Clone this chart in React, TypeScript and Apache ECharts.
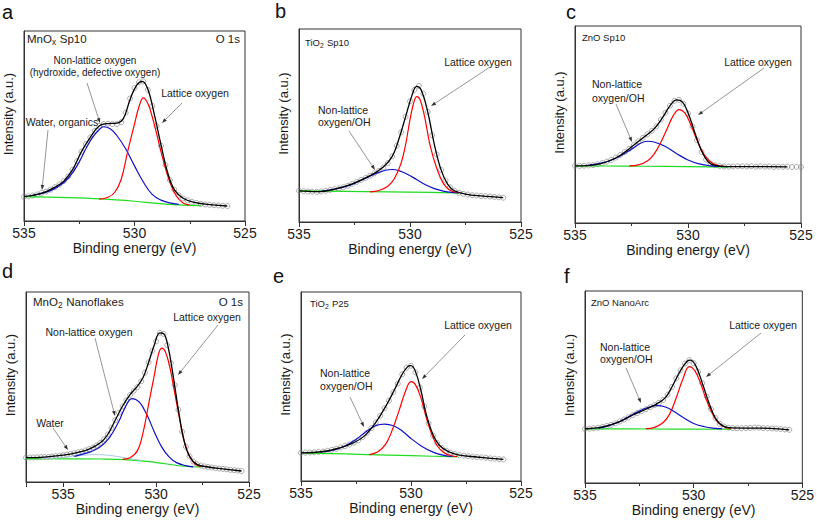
import React, { useEffect, useRef } from 'react';
import * as echarts from 'echarts';

const FONT = '"Liberation Sans", Arial, Helvetica, sans-serif';
type Pt = [number, number];

// ---------- Panel a: MnOx Sp10 ----------
const aRaw: Pt[] = [[535.0,12.8],[534.8,13.0],[534.6,13.4],[534.4,14.0],[534.2,14.8],[534.0,15.5],[533.8,16.5],[533.6,17.8],[533.4,19.2],[533.2,21.0],[533.0,23.5],[532.8,27.0],[532.6,31.5],[532.4,36.5],[532.2,40.5],[532.0,44.0],[531.8,47.5],[531.6,50.0],[531.4,51.0],[531.2,51.2],[531.0,51.0],[530.8,51.0],[530.6,52.0],[530.4,57.0],[530.2,64.5],[530.0,70.0],[529.8,73.0],[529.6,73.5],[529.4,69.0],[529.2,60.5],[529.0,50.0],[528.8,39.5],[528.6,29.5],[528.4,21.5],[528.2,16.5],[528.0,13.5],[527.8,11.8],[527.6,10.8],[527.4,10.0],[527.2,9.5],[527.0,9.0],[526.8,8.7],[526.6,8.5],[526.4,8.3],[526.2,8.2],[526.0,8.0],[525.8,7.9]];
const aFit: Pt[] = [[535,12.8],[534.4,14],[534,15.5],[533.6,17.8],[533.2,21],[532.8,27],[532.4,36.5],[532,44],[531.6,50],[531.2,51.3],[530.8,51.5],[530.5,54],[530.2,64],[529.9,71.5],[529.65,73.5],[529.4,69.5],[529.1,56],[528.8,40],[528.5,25.5],[528.2,16.5],[527.8,12],[527.3,9.8],[526.5,8.5],[525.8,7.9]];
const aBase: Pt[] = [[535,12.8],[533,12.3],[531.5,11.6],[530,10.4],[529,9.3],[528,8.5],[527,8.1]];
const aLattice: Pt[] = [[531.6,11.5],[531.2,12.5],[530.9,15],[530.6,22],[530.3,37],[530.0,51],[529.8,60],[529.6,64.8],[529.4,62],[529.2,55],[529.0,46],[528.7,32],[528.4,20.5],[528.1,13],[527.8,9.5],[527.5,8.4]];
const aNonLattice: Pt[] = [[534.6,13.5],[534.2,14.5],[533.8,16],[533.4,18.5],[533,22.5],[532.6,29],[532.2,38],[531.9,44],[531.6,48],[531.4,49.6],[531.1,48.5],[530.8,45],[530.4,38],[530,29],[529.6,20.5],[529.2,14],[528.8,11],[528.4,9.5],[528,8.7]];

// ---------- Panel b: TiO2 Sp10 ----------
const bRaw: Pt[] = [[535.0,16.2],[534.8,16.0],[534.6,15.8],[534.4,15.7],[534.2,15.6],[534.0,15.8],[533.8,16.2],[533.6,16.6],[533.4,17.0],[533.2,17.4],[533.0,18.0],[532.8,18.8],[532.6,19.8],[532.4,20.8],[532.2,21.8],[532.0,22.8],[531.8,24.0],[531.6,25.2],[531.4,26.5],[531.2,28.2],[531.0,30.5],[530.8,34.0],[530.6,39.5],[530.4,46.5],[530.2,54.5],[530.0,62.5],[529.8,68.5],[529.6,70.5],[529.4,66.5],[529.2,57.0],[529.0,45.0],[528.8,35.0],[528.6,27.0],[528.4,21.5],[528.2,18.0],[528.0,16.2],[527.8,15.2],[527.6,14.6],[527.4,14.2],[527.2,13.9],[527.0,13.7],[526.8,13.5],[526.6,13.4],[526.4,13.2],[526.2,13.0],[526.0,12.8],[525.8,12.6]];
const bFit: Pt[] = [[535,16.1],[534.2,15.7],[533.4,17],[532.6,19.8],[531.8,24],[531.2,28.5],[530.8,34],[530.5,43],[530.2,54.5],[529.9,66],[529.7,70.3],[529.5,68.5],[529.2,57],[528.9,40],[528.6,27],[528.3,19.5],[528,16.2],[527.5,14.5],[526.8,13.5],[525.8,12.6]];
const bBase: Pt[] = [[535,16.1],[533,15.9],[531,15.6],[529,15.3],[527.8,15.1]];
const bLattice: Pt[] = [[531.8,15.6],[531.4,16.3],[531.0,18.5],[530.7,22.5],[530.4,30.5],[530.2,40],[530.0,53],[529.85,61],[529.7,65],[529.55,63.5],[529.35,55],[529.1,40],[528.8,28],[528.5,20],[528.2,16.5],[527.8,15.2]];
const bNonLattice: Pt[] = [[534,15.9],[533.4,17],[533,18],[532.5,20],[532,22.7],[531.5,25.3],[531.1,26.8],[530.8,27.2],[530.5,26.6],[530.1,24.6],[529.7,22],[529.3,19.3],[528.9,17.3],[528.5,16],[528.1,15.3],[527.8,15.1]];

// ---------- Panel c: ZnO Sp10 ----------
const cRaw: Pt[] = [[535.0,29.0],[534.8,29.0],[534.6,29.1],[534.4,29.2],[534.2,29.4],[534.0,29.8],[533.8,30.4],[533.6,31.1],[533.4,32.0],[533.2,33.2],[533.0,34.5],[532.8,36.0],[532.6,37.7],[532.4,39.5],[532.2,41.5],[532.0,43.2],[531.8,45.0],[531.6,46.8],[531.4,49.0],[531.2,52.5],[531.0,56.0],[530.8,59.5],[530.6,62.0],[530.4,62.5],[530.2,60.5],[530.0,55.5],[529.8,49.0],[529.6,42.0],[529.4,36.0],[529.2,32.2],[529.0,30.2],[528.8,29.3],[528.6,28.9],[528.4,28.7],[528.2,28.6],[528.0,28.7],[527.8,28.8],[527.6,28.8],[527.4,28.7],[527.2,28.8],[527.0,28.6],[526.8,28.7],[526.6,28.6],[526.4,28.7],[526.2,28.5],[526.0,28.6],[525.8,28.5],[525.6,28.6],[525.4,28.4],[525.2,28.5],[525.0,28.4]];
const cFit: Pt[] = [[535,29],[534,29.8],[533.2,33],[532.6,37.7],[532,43.2],[531.5,47.8],[531.1,54],[530.8,59.5],[530.5,62.5],[530.25,61.5],[530,56],[529.7,46],[529.4,36.5],[529.1,31],[528.8,29.2],[528.3,28.6],[527,28.6],[525.6,28.5]];
const cBase: Pt[] = [[535,29],[533,28.9],[531,28.7],[529,28.5],[528.2,28.4]];
const cLattice: Pt[] = [[532.6,29],[532.2,29.5],[531.8,31.5],[531.5,35],[531.2,41],[530.9,48.5],[530.65,54.5],[530.4,57.6],[530.15,56],[529.9,50.5],[529.6,42],[529.3,35],[529.0,31],[528.7,29.3],[528.4,28.7]];
const cNonLattice: Pt[] = [[534.5,29.2],[534,30],[533.5,31.5],[533,34],[532.5,37.5],[532.1,40.5],[531.8,41.5],[531.5,41.1],[531,38.8],[530.5,35.2],[530,32],[529.5,30],[529,29],[528.6,28.7]];

// ---------- Panel d: MnO2 Nanoflakes ----------
const dRaw: Pt[] = [[537.0,12.8],[536.8,12.9],[536.6,12.9],[536.4,13.0],[536.2,13.1],[536.0,13.1],[535.8,13.2],[535.6,13.4],[535.4,13.6],[535.2,13.8],[535.0,14.1],[534.8,14.4],[534.6,14.8],[534.4,15.2],[534.2,15.6],[534.0,16.0],[533.8,16.6],[533.6,17.3],[533.4,18.1],[533.2,19.2],[533.0,20.6],[532.8,22.5],[532.6,25.0],[532.4,28.5],[532.2,32.5],[532.0,36.5],[531.8,39.8],[531.6,43.0],[531.4,45.8],[531.2,48.0],[531.0,50.0],[530.8,53.0],[530.6,57.5],[530.4,63.0],[530.2,69.0],[530.0,74.0],[529.8,78.5],[529.6,78.0],[529.4,72.0],[529.2,62.5],[529.0,51.0],[528.8,38.0],[528.6,26.5],[528.4,18.5],[528.2,13.5],[528.0,10.8],[527.8,9.3],[527.6,8.6],[527.4,8.2],[527.2,7.9],[527.0,7.6],[526.8,7.3],[526.6,7.1],[526.4,6.9],[526.2,6.7],[526.0,6.4],[525.8,6.2],[525.6,6.0],[525.4,5.8]];
const dFit: Pt[] = [[537,12.8],[536,13.1],[535,14.1],[534.2,15.6],[533.6,17.3],[533,20.6],[532.6,25],[532.2,32.5],[531.8,40],[531.4,46],[531,50.5],[530.7,55],[530.4,63],[530.1,72],[529.8,78.5],[529.6,78.2],[529.35,71],[529.1,57],[528.8,38],[528.5,22],[528.2,13.5],[527.8,9.3],[527.2,7.9],[526.4,6.9],[525.4,5.8]];
const dBase: Pt[] = [[537,12.3],[535,12.2],[533,12.1],[531.7,11.8],[530.5,10.9],[529.5,9.6],[528.5,8.3],[527.6,7.9]];
const dLattice: Pt[] = [[531.8,12],[531.4,12.8],[531.0,16.5],[530.7,26],[530.4,41],[530.1,56],[529.9,66],[529.7,70.5],[529.5,68.5],[529.25,60],[529.0,47],[528.75,34],[528.5,22],[528.2,13.5],[527.9,9.5],[527.6,8.2]];
const dNonLattice: Pt[] = [[534.4,13.5],[534,14.5],[533.5,16],[533,18.5],[532.5,23.5],[532,32],[531.7,38.5],[531.3,43.9],[530.9,42],[530.5,35.5],[530.1,26.5],[529.7,18.5],[529.3,13.2],[528.9,10.2],[528.4,8.6],[528,8]];
const dWater: Pt[] = [[536.2,12.3],[535,12.9],[534,14],[533.3,14.4],[532.5,14],[531.5,12.5],[530.8,11.3]];

// ---------- Panel e: TiO2 P25 ----------
const eRaw: Pt[] = [[535.0,14.9],[534.8,15.0],[534.6,15.1],[534.4,15.2],[534.2,15.4],[534.0,15.6],[533.8,16.0],[533.6,16.5],[533.4,17.0],[533.2,17.7],[533.0,18.5],[532.8,19.3],[532.6,20.3],[532.4,21.5],[532.2,23.2],[532.0,25.5],[531.8,28.0],[531.6,31.0],[531.4,34.5],[531.2,38.5],[531.0,42.5],[530.8,47.0],[530.6,51.5],[530.4,56.5],[530.2,60.0],[530.0,61.0],[529.8,57.5],[529.6,49.5],[529.4,39.5],[529.2,30.5],[529.0,24.0],[528.8,20.0],[528.6,17.5],[528.4,16.0],[528.2,15.0],[528.0,14.2],[527.8,13.7],[527.6,13.4],[527.4,13.1],[527.2,12.9],[527.0,12.7],[526.8,12.5],[526.6,12.3],[526.4,12.0],[526.2,11.8],[526.0,11.6],[525.8,11.4]];
const eFit: Pt[] = [[535,14.9],[534,15.6],[533.2,17.7],[532.6,20.3],[532.1,24],[531.6,31],[531.1,40.5],[530.7,49.5],[530.4,56.5],[530.15,60.5],[530,61],[529.8,58],[529.55,48],[529.3,35],[529,24.5],[528.7,18.8],[528.3,15.5],[527.8,13.7],[527,12.7],[525.8,11.4]];
const eBase: Pt[] = [[535,14.9],[533,14.3],[531,13.7],[529,13.1],[527.9,12.8]];
const eLattice: Pt[] = [[531.9,14],[531.5,15.5],[531.15,19.5],[530.85,27],[530.55,37],[530.25,47.5],[530.0,52.6],[529.8,51],[529.55,44],[529.3,33.3],[529.05,24.5],[528.8,18.5],[528.5,15],[528.2,13.5],[527.9,12.9]];
const eNonLattice: Pt[] = [[534.1,15.2],[533.5,16.5],[533,18.5],[532.5,22],[532,26.5],[531.6,29.3],[531.2,30.1],[530.8,29.2],[530.4,26.5],[530,22.5],[529.5,18.3],[529,15.3],[528.5,13.6],[528.1,13]];

// ---------- Panel f: ZnO NanoArc ----------
const fRaw: Pt[] = [[535.0,28.2],[534.8,28.3],[534.6,28.5],[534.4,28.8],[534.2,29.2],[534.0,29.7],[533.8,30.3],[533.6,31.1],[533.4,32.0],[533.2,33.1],[533.0,34.2],[532.8,35.4],[532.6,36.4],[532.4,37.4],[532.2,38.4],[532.0,39.5],[531.8,40.6],[531.6,41.8],[531.4,43.3],[531.2,46.0],[531.0,50.0],[530.8,54.5],[530.6,58.7],[530.4,62.2],[530.2,64.0],[530.0,62.5],[529.8,58.0],[529.6,52.0],[529.4,45.0],[529.2,38.5],[529.0,33.8],[528.8,30.8],[528.6,29.4],[528.4,28.8],[528.2,28.6],[528.0,28.5],[527.8,28.5],[527.6,28.6],[527.4,28.7],[527.2,28.9],[527.0,28.8],[526.8,28.6],[526.6,28.5],[526.4,28.4],[526.2,28.3],[526.0,28.1],[525.8,27.9],[525.6,27.7]];
const fFit: Pt[] = [[535,28.2],[534.2,29.2],[533.4,32],[532.8,35.4],[532.2,38.4],[531.7,41.2],[531.3,44.5],[531,50],[530.6,58.7],[530.3,63.4],[530.15,64],[529.9,61],[529.6,52],[529.3,41.8],[529,33.8],[528.7,30],[528.3,28.7],[527.5,28.6],[526.5,28.5],[525.6,27.7]];
const fBase: Pt[] = [[535,28.2],[533,28.15],[531,28.1],[529,28],[528.3,28]];
const fLattice: Pt[] = [[532.2,28.3],[531.8,29],[531.4,31.5],[531.1,36],[530.8,44.4],[530.5,54],[530.2,60.6],[529.95,58.5],[529.7,52.5],[529.45,44.4],[529.2,37.5],[528.95,32.5],[528.65,29.6],[528.3,28.3]];
const fNonLattice: Pt[] = [[534.4,28.6],[534,29.5],[533.5,31.5],[533,34.5],[532.5,37.5],[532,39.7],[531.7,40.3],[531.3,39.6],[530.9,37.2],[530.5,34.2],[530,31],[529.5,29.3],[529,28.5],[528.7,28.3]];

const xTickLabels = ['535', '530', '525'];
const xAxisTitle = 'Binding energy (eV)';
const yAxisTitle = 'Intensity (a.u.)';

const panels = [
  { grid: { left: 24, top: 31, width: 221, height: 190 }, xMax: 535, raw: aRaw, fit: aFit, base: aBase, lat: aLattice, non: aNonLattice, water: null as Pt[] | null },
  { grid: { left: 299, top: 29, width: 222, height: 193 }, xMax: 535, raw: bRaw, fit: bFit, base: bBase, lat: bLattice, non: bNonLattice, water: null },
  { grid: { left: 575, top: 26, width: 226, height: 197 }, xMax: 535, raw: cRaw, fit: cFit, base: cBase, lat: cLattice, non: cNonLattice, water: null },
  { grid: { left: 26, top: 292, width: 223, height: 190 }, xMax: 537, raw: dRaw, fit: dFit, base: dBase, lat: dLattice, non: dNonLattice, water: dWater },
  { grid: { left: 301, top: 292, width: 220, height: 189 }, xMax: 535, raw: eRaw, fit: eFit, base: eBase, lat: eLattice, non: eNonLattice, water: null },
  { grid: { left: 585, top: 291, width: 222, height: 192 }, xMax: 535, raw: fRaw, fit: fFit, base: fBase, lat: fLattice, non: fNonLattice, water: null },
];

const TXT = '#1a1a1a';

let measureCtx: CanvasRenderingContext2D | null = null;
function measure(t: string, size: number) {
  if (!measureCtx) measureCtx = document.createElement('canvas').getContext('2d');
  if (!measureCtx) return t.length * size * 0.55;
  measureCtx.font = `${size}px "Liberation Sans", Arial, sans-serif`;
  return measureCtx.measureText(t).width;
}

function text(x: number, y: number, t: string, size = 10.5, align = 'left', lineHeight?: number) {
  return { type: 'text', x, y, silent: true, style: { text: t, fontSize: size, fontFamily: FONT, fill: TXT, align, verticalAlign: 'middle', lineHeight } };
}

// chemical name with subscript: main1 + sub + main2
function subLabel(x: number, y: number, main1: string, sub: string, main2: string, size: number) {
  const ss = size * 0.72;
  const w1 = measure(main1, size);
  const w2 = measure(sub, ss);
  return {
    type: 'group', silent: true,
    children: [
      text(x, y, main1, size),
      text(x + w1, y + size * 0.32, sub, ss),
      text(x + w1 + w2 + 0.5, y, main2, size),
    ],
  };
}

function arrow(x1: number, y1: number, x2: number, y2: number) {
  const a = Math.atan2(y2 - y1, x2 - x1);
  const L = 5, W = 1.8;
  const bx = x2 - L * Math.cos(a), by = y2 - L * Math.sin(a);
  return {
    type: 'group', silent: true,
    children: [
      { type: 'line', shape: { x1, y1, x2: bx, y2: by }, style: { stroke: '#8a8a8a', lineWidth: 0.9 } },
      { type: 'polygon', shape: { points: [[x2, y2], [bx + W * Math.sin(a), by - W * Math.cos(a)], [bx - W * Math.sin(a), by + W * Math.cos(a)]] }, style: { fill: '#333' } },
    ],
  };
}

function letter(x: number, y: number, t: string) {
  return { type: 'text', x, y, silent: true, style: { text: t, fontSize: 20, fontFamily: FONT, fill: '#111', align: 'left', verticalAlign: 'middle' } };
}

export default function App() {
  const ref = useRef<HTMLDivElement>(null);
  useEffect(() => {
    if (!ref.current) return;
    const chart = echarts.init(ref.current, undefined, { renderer: 'svg' });
    const series: any[] = [];
    panels.forEach((p, i) => {
      const common = { xAxisIndex: i, yAxisIndex: i, silent: true };
      series.push({ ...common, type: 'scatter', data: p.raw, symbol: 'circle', symbolSize: 5, z: 1, itemStyle: { color: 'rgba(255,255,255,0)', borderColor: '#7d7d7d', borderWidth: 0.8 } });
      series.push({ ...common, type: 'line', data: p.base, smooth: 0.4, showSymbol: false, z: 2, lineStyle: { color: '#1fdc1f', width: 1.2 } });
      if (p.water) series.push({ ...common, type: 'line', data: p.water, smooth: 0.4, showSymbol: false, z: 2, lineStyle: { color: '#a9c9e6', width: 1 } });
      series.push({ ...common, type: 'line', data: p.non, smooth: 0.4, showSymbol: false, z: 3, lineStyle: { color: '#1010c8', width: 1.2 } });
      series.push({ ...common, type: 'line', data: p.lat, smooth: 0.4, showSymbol: false, z: 3, lineStyle: { color: '#ff0000', width: 1.2 } });
      series.push({ ...common, type: 'line', data: p.fit, smooth: 0.4, showSymbol: false, z: 4, lineStyle: { color: '#000', width: 1.3 } });
    });

    const graphic: any[] = [
      letter(2, 12, 'a'), letter(275, 11, 'b'), letter(566, 12, 'c'),
      letter(2, 271, 'd'), letter(273, 276, 'e'), letter(564, 276, 'f'),
      // a
      subLabel(27, 39, 'MnO', 'x', ' Sp10', 11.5),
      text(240, 39, 'O 1s', 11.5, 'right'),
      text(95, 66.5, 'Non-lattice oxygen\n(hydroxide, defective oxygen)', 10, 'center', 11.5),
      text(195, 93, 'Lattice oxygen', 10.5, 'center'),
      text(62, 122, 'Water, organics', 10.5, 'center'),
      arrow(87, 83, 100, 123), arrow(182, 103, 162, 123), arrow(48, 130, 42, 190),
      // b
      subLabel(305, 42, 'TiO', '2', ' Sp10', 9.5),
      text(478, 62, 'Lattice oxygen', 10.5, 'center'),
      text(318, 116, 'Non-lattice\noxygen/OH', 10.5, 'left', 12),
      arrow(490, 67, 431, 106), arrow(349, 131, 375, 170),
      // c
      text(582, 37, 'ZnO Sp10', 9.5),
      text(758, 62, 'Lattice oxygen', 10.5, 'center'),
      text(592, 91, 'Non-lattice\noxygen/OH', 10.5, 'left', 14),
      arrow(764, 68, 698, 115), arrow(616, 104, 632, 142),
      // d
      subLabel(33, 302, 'MnO', '2', ' Nanoflakes', 11.5),
      text(243, 302, 'O 1s', 11.5, 'right'),
      text(207, 317, 'Lattice oxygen', 10.5, 'center'),
      text(89, 332, 'Non-lattice oxygen', 10.5, 'center'),
      text(50, 423, 'Water', 10.5, 'center'),
      arrow(218, 325, 178, 375), arrow(95, 338, 115, 416), arrow(53, 428, 68, 450),
      // e
      subLabel(310, 303, 'TiO', '2', ' P25', 9.5),
      text(478, 325, 'Lattice oxygen', 10.5, 'center'),
      text(320, 379.5, 'Non-lattice\noxygen/OH', 10.5, 'left', 13),
      arrow(465, 335, 422, 379), arrow(350, 397, 364, 427),
      // f
      text(591, 302, 'ZnO NanoArc', 9.5),
      text(763, 325, 'Lattice oxygen', 10.5, 'center'),
      text(600, 353, 'Non-lattice\noxygen/OH', 10.5, 'left', 12),
      arrow(761, 333, 706, 377), arrow(626, 368, 641, 403),
    ];

    chart.setOption({
      animation: false,
      backgroundColor: '#fff',
      textStyle: { fontFamily: FONT },
      grid: panels.map((p) => ({ ...p.grid, show: true, borderColor: '#333', borderWidth: 1, backgroundColor: 'transparent' })),
      xAxis: panels.map((p, i) => ({
        type: 'value', gridIndex: i, min: 525, max: p.xMax, interval: 5, inverse: true,
        axisLine: { show: true, lineStyle: { color: '#333', width: 1 } },
        axisTick: { show: true, inside: false, length: 5, lineStyle: { color: '#333' } },
        minorTick: { show: true, splitNumber: 2, length: 3, lineStyle: { color: '#333' } },
        splitLine: { show: false },
        axisLabel: { fontSize: 14, color: TXT, fontFamily: FONT, margin: 5, formatter: (v: number) => (xTickLabels.includes(String(v)) ? String(v) : '') },
        name: xAxisTitle, nameLocation: 'middle', nameGap: 19,
        nameTextStyle: { fontSize: 14, color: TXT, fontFamily: FONT, verticalAlign: 'top' },
      })),
      yAxis: panels.map((_, i) => ({
        type: 'value', gridIndex: i, min: 0, max: 100,
        axisLine: { show: true, lineStyle: { color: '#333' } },
        axisTick: { show: false }, axisLabel: { show: false }, splitLine: { show: false },
        name: yAxisTitle, nameLocation: 'middle', nameGap: 9, nameRotate: 90,
        nameTextStyle: { fontSize: 13, color: TXT, fontFamily: FONT, padding: [0, 0, 0, 24] },
      })),
      series,
      graphic,
    });
    return () => chart.dispose();
  }, []);
  return <div ref={ref} style={{ position: 'absolute', left: 0, top: 0, width: 817, height: 520, background: '#fff' }} />;
}
